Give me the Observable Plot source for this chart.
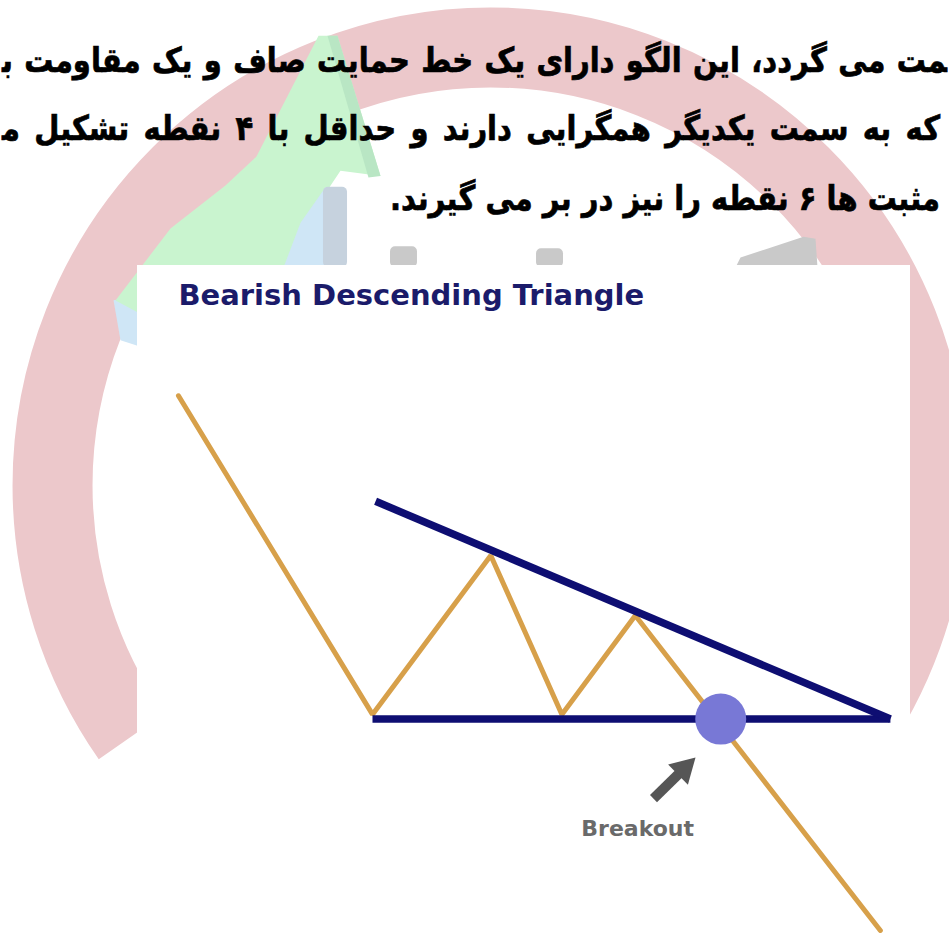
<!DOCTYPE html>
<html>
<head>
<meta charset="utf-8">
<script src="https://cdn.jsdelivr.net/npm/d3@7"></script>
<script src="https://cdn.jsdelivr.net/npm/@observablehq/plot@0.6"></script>
<style>
  html, body { margin: 0; padding: 0; background: #ffffff; }
  #wrap { position: relative; width: 949px; height: 933px; overflow: hidden; background: #ffffff; }
  #chart { position: absolute; left: 0; top: 0; }
  .fa { position: absolute; direction: rtl; font-family: "DejaVu Sans", sans-serif; font-weight: bold;
        color: #000; font-size: 29px; line-height: 40px; -webkit-text-stroke: 0.6px #000;
        transform: scaleY(1.18); transform-origin: 50% 50%; }
</style>
</head>
<body>
<div id="wrap"><div id="chart"></div><div id="text"></div></div>
<script>
// ---------- data (time units 0–100, price units 0–100) ----------
const priceTime  = [5.3, 30.4, 45.7, 54.9, 64.4, 96.1];
const priceLevel = [80.5, 32.8, 56.6, 32.8, 47.6, 0.45];

const supportTime  = [30.4, 97.4];
const supportLevel = [32.1, 32.1];
const resistanceTime  = [30.8, 97.4];
const resistanceLevel = [64.7, 32.1];

const breakoutTime = [75.45];
const breakoutLevel = [32.1];
const breakoutArrowTime  = [66.75, 72.19];   // tail, tip
const breakoutArrowLevel = [20.2, 26.35];
const breakoutLabel = ["Breakout"];
const breakoutLabelTime = [64.7];
const breakoutLabelLevel = [15.7];

const chartTitle = ["Bearish Descending Triangle"];
const titleTime = [5.3];
const titleLevel = [95.5];

// Persian paragraph (visible, cropped lines)
const persianLines = [
  "\u200Dمت می گردد، این الگو دارای یک خط حمایت صاف و یک مقاومت ب\u200D",
  "که به سمت یکدیگر همگرایی دارند و حداقل با ۴ نقطه تشکیل م\u200D",
  "مثبت ها ۶ نقطه را نیز در بر می گیرند."
];

// watermark shapes (same units)
const ringCenterTime = [45.67];
const ringCenterLevel = [67.07];
const arrowShapeTime  = [23.42, 25.87, 31.44, 26.26, 22.38, 19.15, 8.15, -2.85, 4.27, 11.38, 15.39];
const arrowShapeLevel = [134.4, 134.4, 113.4, 114.2, 107.5, 99.55, 88.0, 94.76, 105.54, 111.98, 116.3];
const arrowFaceTime  = [24.58, 25.87, 31.44, 29.88];
const arrowFaceLevel = [134.4, 134.4, 113.4, 113.17];
const bladeTime  = [18.89, 21.09, 24.32, 24.71, 24.71];
const bladeLevel = [99.7, 106.4, 111.7, 111.7, 99.7];
const paleTime  = [-3.1, 0, 0, -2.2];
const paleLevel = [94.8, 95.4, 88.0, 88.8];
const barStart = [24.06, 32.73, 51.62];
const barEnd   = [27.17, 36.22, 55.11];
const barTop   = [111.7, 102.8, 102.5];
const barKind  = ["slate", "gray", "gray"];
const wedgeTime  = [77.36, 78.01, 86.16, 87.71, 87.97];
const wedgeLevel = [99.7, 101.2, 104.3, 104.0, 99.7];

// ---------- scales ----------
const xDomain = [0, 100], xRange = [137, 910];
const yDomain = [0, 100], yRange = [933, 265];
const kx = (xRange[1] - xRange[0]) / (xDomain[1] - xDomain[0]);
const ky = (yRange[1] - yRange[0]) / (yDomain[1] - yDomain[0]);

const rows = (ts, ps) => ts.map((t, i) => ({t, p: ps[i]}));

// colours
const NAVY = "#0e0e72", ORANGE = "#d7a04a", PERI = "#7878d6";
const PINK = "#ecc8cb", GREEN = "#c9f4cf", GREEN2 = "#b9e6c4", BLUE = "#cfe6f6";

// ring dash: visible arc from 145° to 400° (clockwise from 3 o'clock)
const ringR = 438, ringW = 80;
const circ = 2 * Math.PI * ringR, perDeg = circ / 360;
const ringDash = `${255 * perDeg} ${105 * perDeg}`;
const ringOffset = 215 * perDeg;

// breakout arrow geometry derived from data
const aT = breakoutArrowTime, aP = breakoutArrowLevel;
const dxPx = (aT[1] - aT[0]) * kx, dyPx = (aP[1] - aP[0]) * ky;
const lenPx = Math.hypot(dxPx, dyPx);
const angle = Math.atan2(dxPx, -dyPx) * 180 / Math.PI;
const headR = 10.5, headTip = 1.555 * headR;
const frac = (lenPx - headTip) / lenPx;
const headCenter = {t: aT[0] + (aT[1] - aT[0]) * frac, p: aP[0] + (aP[1] - aP[0]) * frac};

const bars = barStart.map((s, i) => ({x1: s, x2: barEnd[i], y1: 99.7, y2: barTop[i], kind: barKind[i]}));

const chart = Plot.plot({
  width: 949, height: 933, margin: 0,
  x: {domain: xDomain, range: xRange, axis: null},
  y: {domain: yDomain, range: yRange, axis: null},
  style: {background: "transparent", overflow: "visible"},
  marks: [
    Plot.dot(rows(ringCenterTime, ringCenterLevel), {x: "t", y: "p", r: ringR, fill: "none",
      stroke: PINK, strokeWidth: ringW, strokeDasharray: ringDash, strokeDashoffset: ringOffset}),
    Plot.line(rows(paleTime, paleLevel), {x: "t", y: "p", fill: BLUE, stroke: "none"}),
    Plot.line(rows(arrowShapeTime, arrowShapeLevel), {x: "t", y: "p", fill: GREEN, stroke: "none"}),
    Plot.line(rows(arrowFaceTime, arrowFaceLevel), {x: "t", y: "p", fill: GREEN2, stroke: "none"}),
    Plot.line(rows(bladeTime, bladeLevel), {x: "t", y: "p", fill: BLUE, stroke: "none"}),
    Plot.rect(bars, {x1: "x1", x2: "x2", y1: "y1", y2: "y2", rx: 5,
      fill: d => d.kind === "gray" ? "#c9c9c9" : "#c6d2de"}),
    Plot.line(rows(wedgeTime, wedgeLevel), {x: "t", y: "p", fill: "#c9c9c9", stroke: "none"}),
    // chart card
    Plot.rect([{x1: xDomain[0], x2: xDomain[1], y1: yDomain[0], y2: yDomain[1]}],
      {x1: "x1", x2: "x2", y1: "y1", y2: "y2", fill: "#ffffff"}),
    Plot.text(rows(titleTime, titleLevel), {x: "t", y: "p", text: () => chartTitle[0], textAnchor: "start",
      fontFamily: "DejaVu Sans", fontWeight: "bold", fontSize: 29, fill: "#1b1b6a"}),
    // price path
    Plot.line(rows(priceTime, priceLevel), {x: "t", y: "p", stroke: ORANGE, strokeWidth: 5,
      strokeLinejoin: "miter", strokeLinecap: "round"}),
    // support & resistance
    Plot.link([{x1: supportTime[0], y1: supportLevel[0], x2: supportTime[1], y2: supportLevel[1]}],
      {x1: "x1", y1: "y1", x2: "x2", y2: "y2", stroke: NAVY, strokeWidth: 7.5, strokeLinecap: "butt"}),
    Plot.link([{x1: resistanceTime[0], y1: resistanceLevel[0], x2: resistanceTime[1], y2: resistanceLevel[1]}],
      {x1: "x1", y1: "y1", x2: "x2", y2: "y2", stroke: NAVY, strokeWidth: 7.5, strokeLinecap: "butt"}),
    // breakout
    Plot.dot(rows(breakoutTime, breakoutLevel), {x: "t", y: "p", r: 25.5, fill: PERI, stroke: "none"}),
    Plot.link([{x1: aT[0], y1: aP[0], x2: headCenter.t, y2: headCenter.p}],
      {x1: "x1", y1: "y1", x2: "x2", y2: "y2", stroke: "#565656", strokeWidth: 10, strokeLinecap: "butt"}),
    Plot.dot([headCenter], {x: "t", y: "p", symbol: "triangle", r: headR, rotate: angle, fill: "#565656", stroke: "none"}),
    Plot.text(rows(breakoutLabelTime, breakoutLabelLevel), {x: "t", y: "p", text: () => breakoutLabel[0],
      fontFamily: "DejaVu Sans", fontWeight: "bold", fontSize: 22, fill: "#6a6a6a"})
  ]
});
document.getElementById("chart").appendChild(chart);

// Persian text lines
const layout = [
  {top: 40, left: 2, width: 945, align: "justify"},
  {top: 108, left: 2, width: 938, align: "justify"},
  {top: 178, left: 0, width: 940, align: "right"}
];
const textBox = document.getElementById("text");
persianLines.forEach((s, i) => {
  const d = document.createElement("div");
  d.className = "fa";
  d.textContent = s;
  const L = layout[i];
  d.style.top = L.top + "px";
  d.style.left = L.left + "px";
  d.style.width = L.width + "px";
  d.style.textAlign = L.align;
  if (L.align === "justify") d.style.textAlignLast = "justify";
  textBox.appendChild(d);
});
</script>
</body>
</html>
